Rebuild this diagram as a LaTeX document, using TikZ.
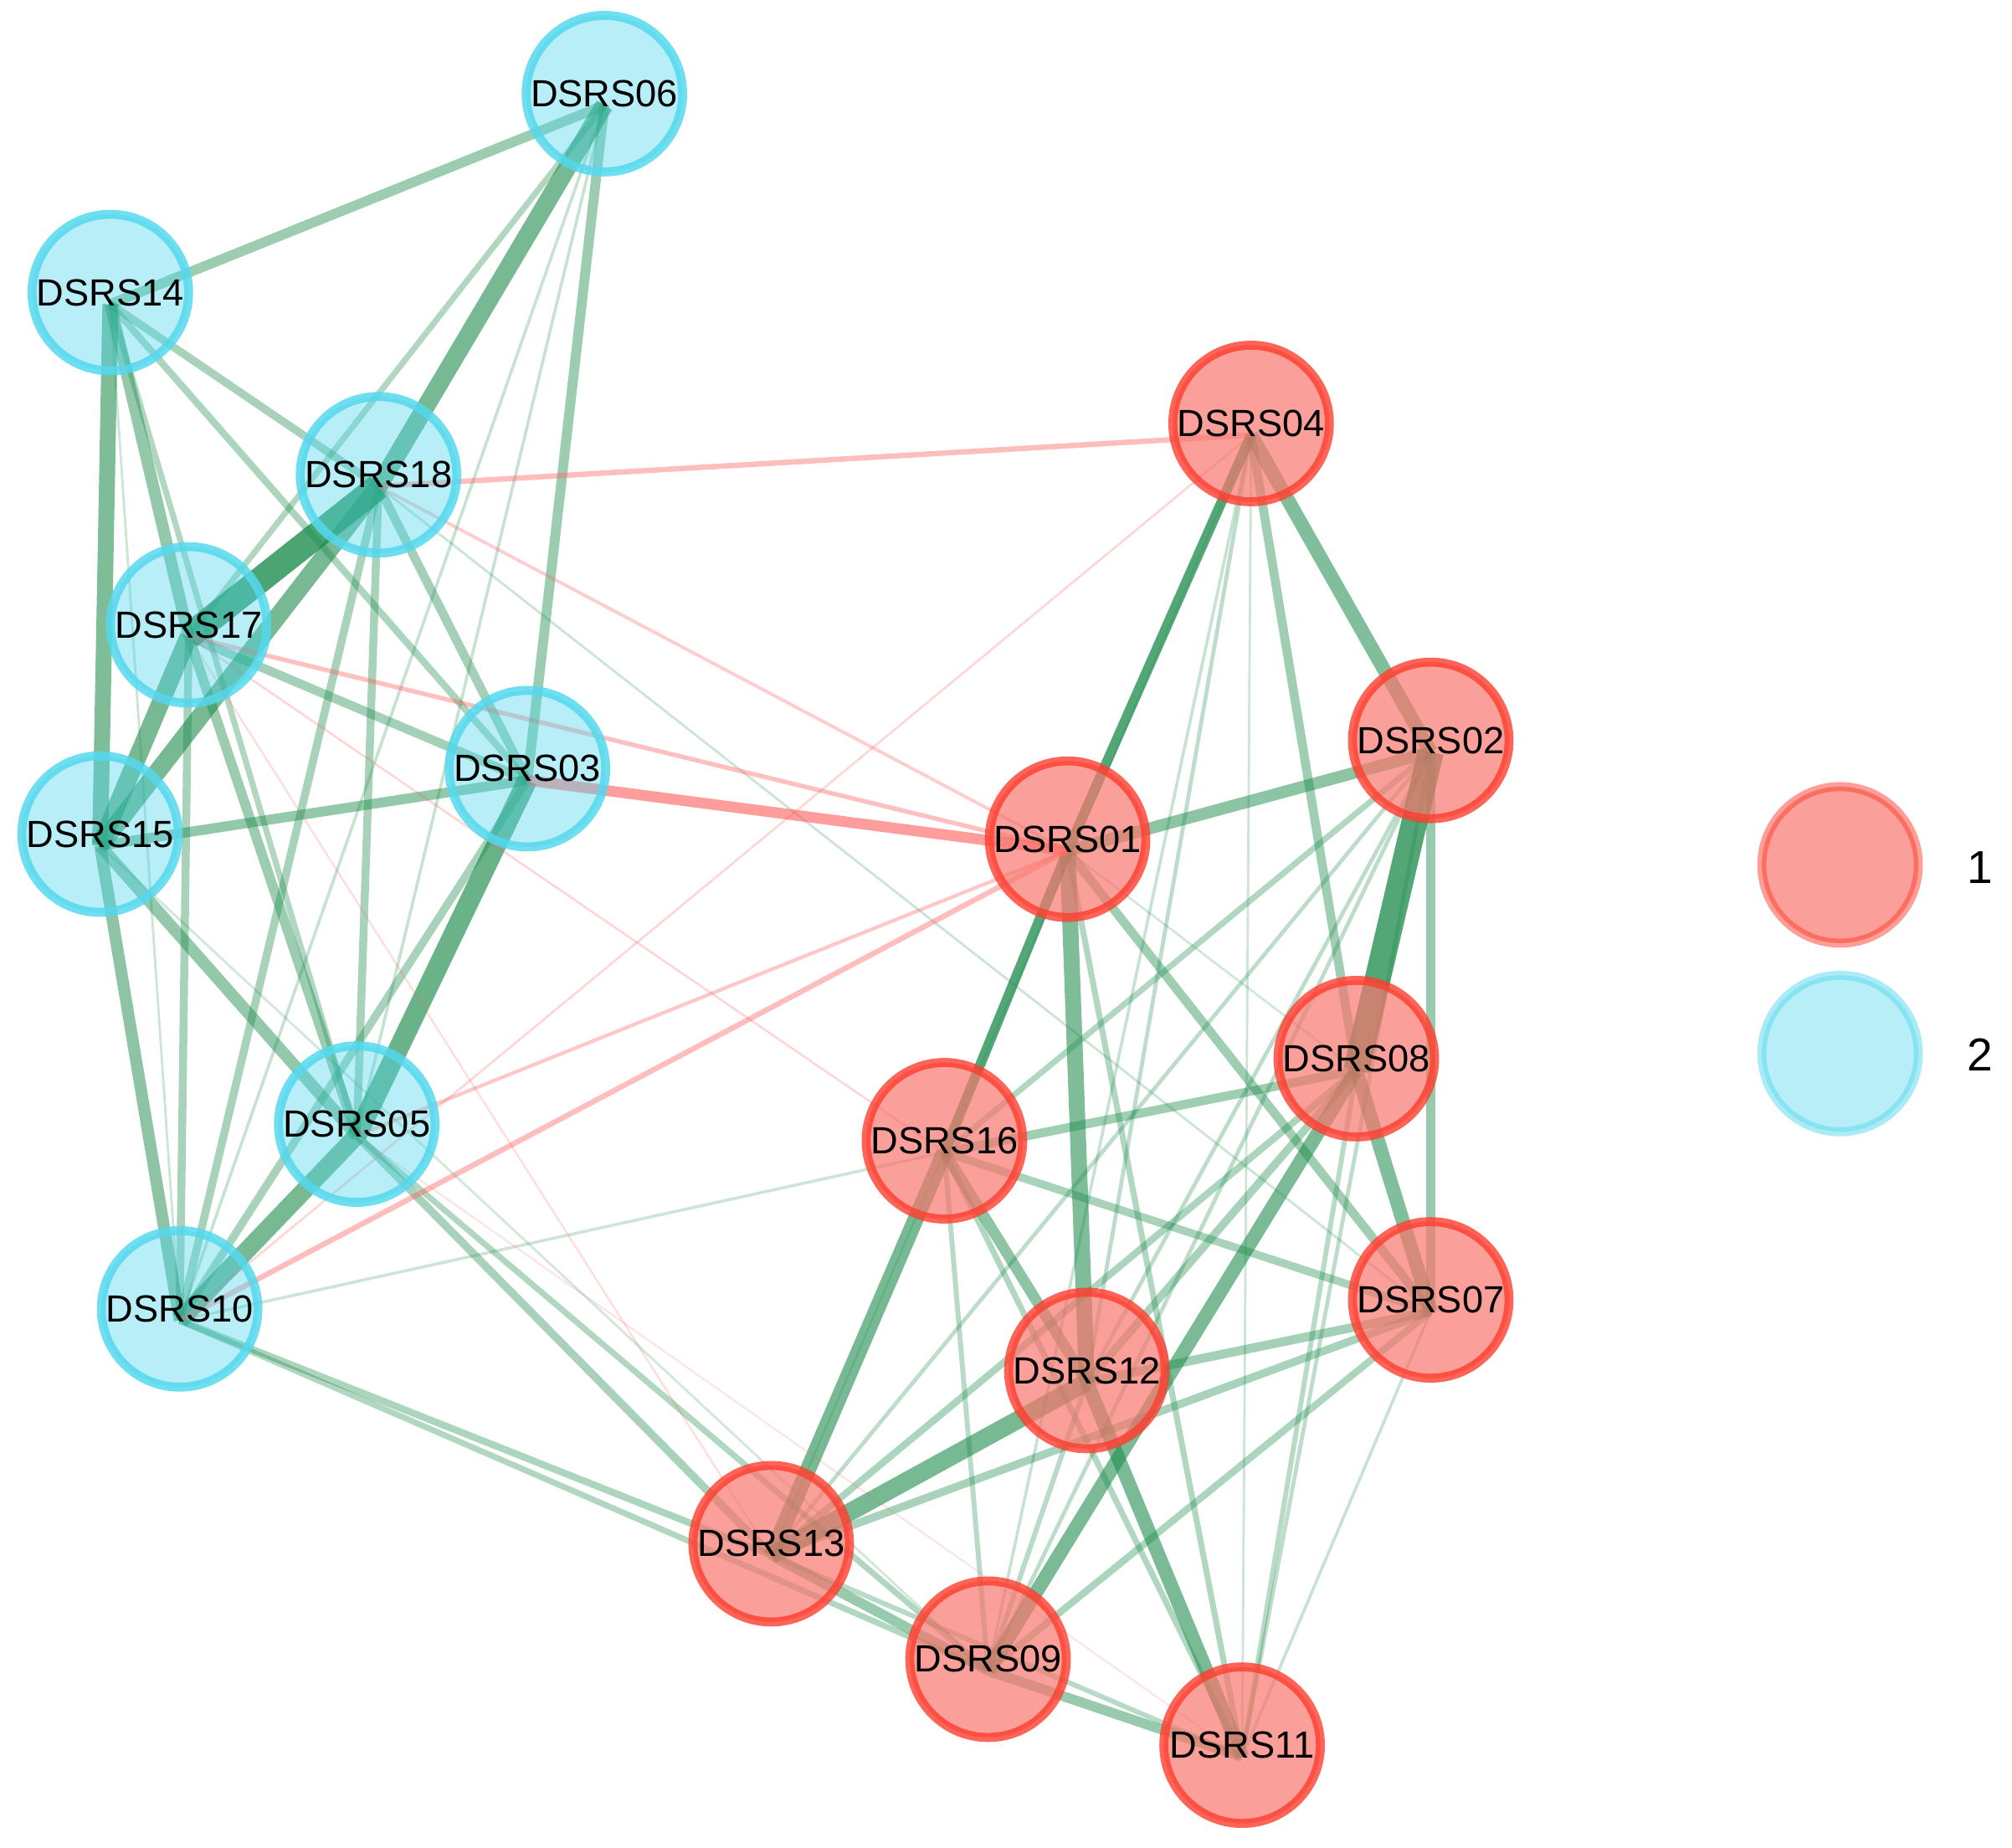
\documentclass[tikz,border=0pt]{standalone}
\usepackage{fontspec}
\setmainfont{Liberation Sans}
\pgfdeclarelayer{edgelayer}
\pgfsetlayers{edgelayer,main}
\definecolor{gcol}{HTML}{1A8A4A}
\definecolor{rcol}{HTML}{FF5A5A}
\definecolor{redfill}{HTML}{F8766D}
\definecolor{redline}{HTML}{FF3D2E}
\definecolor{cyfill}{HTML}{4DD5EC}
\definecolor{cyline}{HTML}{55D8EE}
\begin{document}
\begin{tikzpicture}[x=1pt,y=-1pt,
  vbase/.style={circle, minimum size=122pt, inner sep=0pt, line width=7pt, text opacity=1, font=\fontsize{29.5}{30}\selectfont},
  rnode/.style={vbase, fill=redfill, fill opacity=0.7, draw=redline, draw opacity=0.8},
  cnode/.style={vbase, fill=cyfill, fill opacity=0.4, draw=cyline, draw opacity=0.85},
  legtext/.style={font=\fontsize{36}{40}\selectfont, inner sep=0pt}
]
\path[use as bounding box] (0,0) rectangle (1568,1440);
% cluster 2 (cyan)
\node[cnode] (n06) at (471,73) {DSRS06};
\node[cnode] (n14) at (86,228) {DSRS14};
\node[cnode] (n18) at (295,370) {DSRS18};
\node[cnode] (n17) at (147,487) {DSRS17};
\node[cnode] (n15) at (78,650) {DSRS15};
\node[cnode] (n03) at (411,599) {DSRS03};
\node[cnode] (n05) at (278,876) {DSRS05};
\node[cnode] (n10) at (140,1020) {DSRS10};
% cluster 1 (red)
\node[rnode] (n04) at (975,330) {DSRS04};
\node[rnode] (n02) at (1115,577) {DSRS02};
\node[rnode] (n01) at (832,654) {DSRS01};
\node[rnode] (n08) at (1057,825) {DSRS08};
\node[rnode] (n16) at (736,889) {DSRS16};
\node[rnode] (n07) at (1115,1013) {DSRS07};
\node[rnode] (n12) at (847,1068) {DSRS12};
\node[rnode] (n13) at (601,1203) {DSRS13};
\node[rnode] (n09) at (770,1293) {DSRS09};
\node[rnode] (n11) at (968,1360) {DSRS11};
% legend
\node[rnode, draw opacity=0.5] (l1) at (1434,674) {};
\node[cnode, draw opacity=0.5] (l2) at (1434,821) {};
\node[legtext] (t1) at (1543,676) {1};
\node[legtext] (t2) at (1543,822) {2};
\begin{pgfonlayer}{edgelayer}
\foreach \a/\b/\w/\o in {
 06/14/5/0.43, 06/18/9/0.6, 06/17/3/0.34, 06/03/5/0.43, 06/05/1.5/0.25, 06/10/1.5/0.25,
 14/15/8/0.56, 14/17/6/0.47, 14/18/4/0.38, 14/03/3.5/0.36, 14/05/3/0.34, 14/10/1.2/0.22,
 18/17/13/0.78, 18/15/9/0.6, 18/10/4/0.38, 18/05/4/0.38, 18/03/4.5/0.4, 18/07/1.2/0.22,
 17/15/9/0.6, 17/03/4.5/0.4, 17/10/4/0.38, 17/05/5/0.43,
 15/03/5/0.47, 15/05/6/0.47, 15/10/6/0.5, 15/09/1.2/0.2,
 03/05/10/0.65, 03/10/4/0.38,
 05/10/9/0.6, 05/13/4/0.38, 05/09/3/0.34,
 10/13/3.5/0.36, 10/09/3/0.34, 10/16/1.5/0.22,
 04/01/5/0.75, 04/02/7/0.55, 04/08/4.5/0.42, 04/12/2/0.29, 04/09/1.5/0.25, 04/11/1.2/0.22, 04/13/1/0.2,
 02/01/6/0.5, 02/08/13/0.75, 02/07/5/0.45, 02/16/3/0.34, 02/13/2/0.29, 02/09/2/0.29, 02/12/2/0.29, 02/11/2/0.29,
 01/16/5/0.75, 01/12/8/0.56, 01/07/4.5/0.42, 01/11/3/0.34, 01/08/1.2/0.2,
 16/13/8/0.6, 16/08/4.5/0.42, 16/12/5.5/0.5, 16/11/3/0.34, 16/07/4/0.38, 16/09/2.5/0.31,
 08/07/7/0.55, 08/12/4/0.38, 08/09/7/0.58, 08/11/2.5/0.31, 08/13/3.5/0.36,
 07/12/4.5/0.4, 07/13/4/0.38, 07/09/3.5/0.36, 07/11/1.5/0.25,
 12/13/9/0.6, 12/11/7/0.58, 12/09/2.5/0.31,
 13/09/5/0.45, 13/11/2.5/0.31, 09/11/5/0.45}
 {\pgfmathsetmacro\lw{1.55*\w}\draw[draw=gcol, line width=\lw pt, draw opacity=\o] ([yshift=-9pt]n\a.center) -- ([yshift=-9pt]n\b.center);}
\foreach \a/\b/\w/\o in {
 18/04/3/0.4, 03/01/6/0.6, 17/01/2.5/0.38, 18/01/1.8/0.3, 05/01/2/0.34, 10/01/3/0.4,
 10/04/1.2/0.25, 17/16/1.2/0.25, 17/13/1/0.22, 05/11/0.8/0.2}
 {\pgfmathsetmacro\lw{1.4*\w}\draw[draw=rcol, line width=\lw pt, draw opacity=\o] ([yshift=-9pt]n\a.center) -- ([yshift=-9pt]n\b.center);}
\end{pgfonlayer}
\end{tikzpicture}
\end{document}
